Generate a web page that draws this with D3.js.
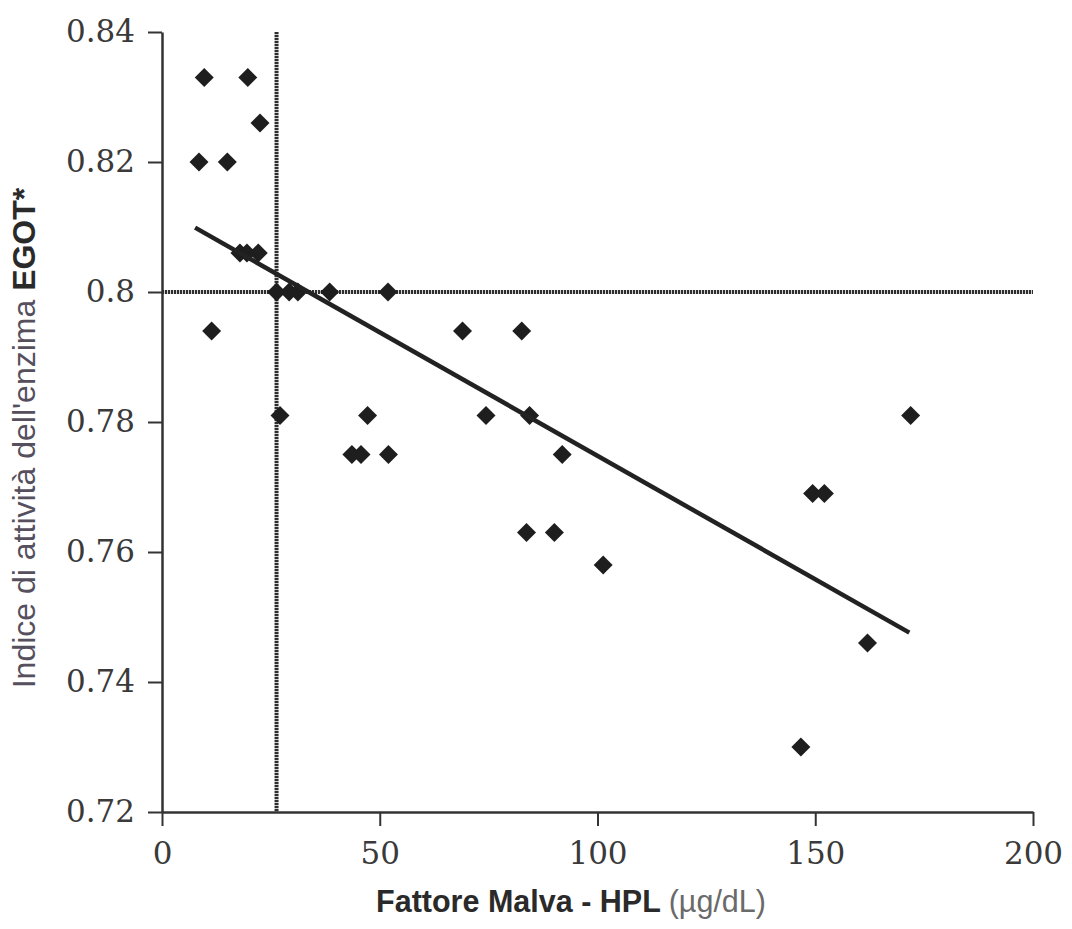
<!DOCTYPE html>
<html>
<head>
<meta charset="utf-8">
<script src="https://cdn.jsdelivr.net/npm/d3@7"></script>
<style>
  html, body { margin: 0; padding: 0; background: #fff; }
  svg { display: block; }
</style>
</head>
<body>
<svg id="chart" width="1072" height="929"></svg>
<script>
// HPL concentration (µg/dL) against EGOT activity index
const hplValues = [9.7, 19.7, 22.5, 8.5, 15.0, 17.9, 19.5, 22.1, 26.3, 29.2, 31.2, 38.5, 51.9,
  11.4, 69.0, 82.6, 27.1, 47.2, 74.4, 84.4, 171.9, 43.6, 45.7, 52.0, 91.9,
  83.7, 90.1, 101.3, 149.4, 152.1, 162.0, 146.7];
const egotValues = [0.833, 0.833, 0.826, 0.820, 0.820, 0.806, 0.806, 0.806, 0.800, 0.800, 0.800, 0.800, 0.800,
  0.794, 0.794, 0.794, 0.781, 0.781, 0.781, 0.781, 0.781, 0.775, 0.775, 0.775, 0.775,
  0.763, 0.763, 0.758, 0.769, 0.769, 0.746, 0.730];

// fitted trend line end points
const trendX = [7.6, 171.6];
const trendY = [0.8099, 0.7476];

// threshold reference lines
const thresholdX = 26.3;
const thresholdY = 0.80;

const xTicks = [0, 50, 100, 150, 200];
const yTicks = [0.72, 0.74, 0.76, 0.78, 0.80, 0.82, 0.84];
const yTickLabels = ["0.72", "0.74", "0.76", "0.78", "0.8", "0.82", "0.84"];

const svg = d3.select("#chart");
const margin = { left: 162, right: 39, top: 32, bottom: 117 };
const W = 1072, H = 929;

const x = d3.scaleLinear().domain([0, 200]).range([margin.left, W - margin.right]);
const y = d3.scaleLinear().domain([0.72, 0.84]).range([H - margin.bottom, margin.top]);

svg.append("rect").attr("width", W).attr("height", H).attr("fill", "#fff");

const tickFont = "'DejaVu Serif', serif";

// x axis
const gx = svg.append("g")
  .attr("transform", `translate(0,${y(0.72)})`)
  .call(d3.axisBottom(x).tickValues(xTicks).tickFormat(d3.format("d"))
    .tickSize(14).tickSizeOuter(0).tickPadding(16));

// y axis
const gy = svg.append("g")
  .attr("transform", `translate(${x(0)},0)`)
  .call(d3.axisLeft(y).tickValues(yTicks).tickFormat((d, i) => yTickLabels[i])
    .tickSize(14).tickSizeOuter(0).tickPadding(13));

[gx, gy].forEach(g => {
  g.select(".domain").attr("stroke", "#333").attr("stroke-width", 2.5);
  g.selectAll(".tick line").attr("stroke", "#333").attr("stroke-width", 2);
  g.selectAll(".tick text")
    .attr("fill", "#3a3a3a")
    .style("font-family", tickFont)
    .style("font-size", "31px");
});

// threshold lines (dense dotted)
const refStyle = sel => sel.attr("stroke", "#2e2e2e").attr("stroke-width", 4)
  .attr("stroke-dasharray", "2.2 0.8").attr("fill", "none");

svg.append("line")
  .attr("x1", x(0)).attr("x2", x(200))
  .attr("y1", y(thresholdY)).attr("y2", y(thresholdY))
  .call(refStyle);

svg.append("line")
  .attr("x1", x(thresholdX)).attr("x2", x(thresholdX))
  .attr("y1", y(0.84)).attr("y2", y(0.72))
  .call(refStyle);

// data points as diamonds
const points = hplValues.map((v, i) => ({ x: v, y: egotValues[i] }));
const diamond = d3.symbol().type(d3.symbolSquare).size(180);

svg.append("g").selectAll("path")
  .data(points)
  .join("path")
  .attr("d", diamond)
  .attr("transform", d => `translate(${x(d.x)},${y(d.y)}) rotate(45)`)
  .attr("fill", "#1e1e1e");

// trend line
const trend = trendX.map((v, i) => ({ x: v, y: trendY[i] }));
svg.append("path")
  .datum(trend)
  .attr("d", d3.line().x(d => x(d.x)).y(d => y(d.y)))
  .attr("stroke", "#222")
  .attr("stroke-width", 4.5)
  .attr("fill", "none");

// axis titles
const xTitle = svg.append("text")
  .attr("x", 571).attr("y", 912)
  .attr("text-anchor", "middle")
  .style("font-family", "'Liberation Sans', Arial, sans-serif")
  .style("font-size", "30.5px");
xTitle.append("tspan").attr("font-weight", "bold").attr("fill", "#2a2a2a").text("Fattore Malva - HPL ");
xTitle.append("tspan").attr("fill", "#6a6a6a").text("(µg/dL)");

const yTitle = svg.append("text")
  .attr("transform", `translate(35,438) rotate(-90)`)
  .attr("text-anchor", "middle")
  .style("font-family", "'Liberation Sans', Arial, sans-serif")
  .style("font-size", "32px");
yTitle.append("tspan").attr("fill", "#56505e").text("Indice di attività dell'enzima ");
yTitle.append("tspan").attr("font-weight", "bold").attr("fill", "#2a2a2a").text("EGOT*");
</script>
</body>
</html>
